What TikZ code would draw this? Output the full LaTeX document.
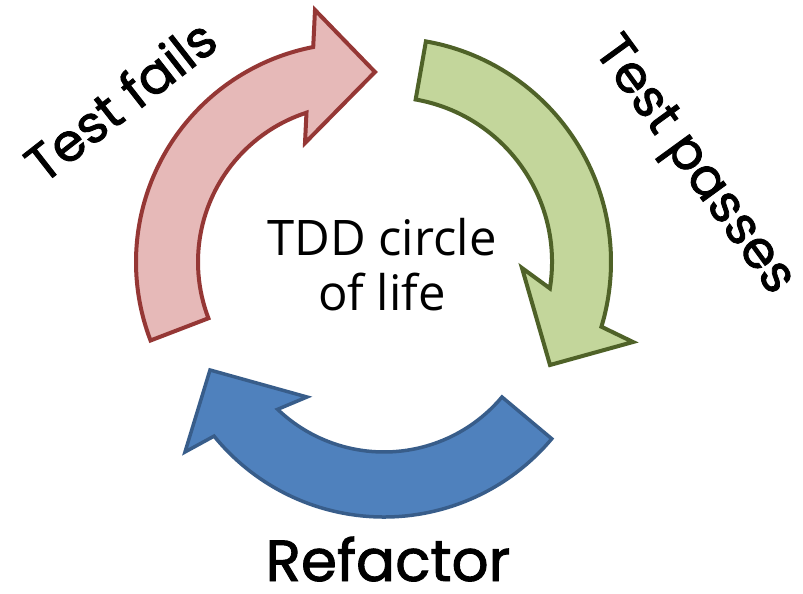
\documentclass[tikz,border=0pt]{standalone}
\usepackage{fontspec}
\setmainfont{Open Sans}
\newfontfamily\handfont{Poppins}[FakeBold=1.6]
\usetikzlibrary{calc}
\definecolor{redfill}{HTML}{E6B9B8}
\definecolor{redline}{HTML}{953735}
\definecolor{greenfill}{HTML}{C3D69B}
\definecolor{greenline}{HTML}{4F6228}
\definecolor{bluefill}{HTML}{4F81BD}
\definecolor{blueline}{HTML}{385D8A}
\tikzset{
  arrowshape/.style={line width=4pt, line join=miter},
  redarrow/.style={arrowshape, fill=redfill, draw=redline},
  greenarrow/.style={arrowshape, fill=greenfill, draw=greenline},
  bluearrow/.style={arrowshape, line width=3.5pt, fill=bluefill, draw=blueline},
  handlabel/.style={font=\handfont\fontsize{52}{60}\selectfont, inner sep=0pt},
  centertext/.style={font=\fontsize{49}{55}\selectfont, inner sep=0pt, anchor=base},
}
\begin{document}
\begin{tikzpicture}[x=1pt,y=-1pt]
\path[use as bounding box, fill=white] (0,0) rectangle (803,594);
% red arrow
\coordinate (rc) at (355,262);
\draw[redarrow] ($(rc)+(159:219)$) arc[start angle=159, end angle=259, radius=219]
  -- (315,10) -- (375,72) -- (305,143) -- ($(rc)+(252:157)$)
  arc[start angle=252, end angle=159, radius=157] -- cycle;
% green arrow
\coordinate (gc) at (387,262);
\draw[greenarrow] ($(gc)+(-80:224)$) arc[start angle=-80, end angle=16.8, radius=224]
  -- (633,342) -- (550,365) -- (522,268) -- ($(gc)+(9.2:165)$)
  arc[start angle=9.2, end angle=-80, radius=165] -- cycle;
% blue arrow
\coordinate (bc) at (384,298);
\draw[bluearrow] ($(bc)+(40:219)$) arc[start angle=40, end angle=140.9, radius=219]
  -- (185,452) -- (210,370) -- (307,397) -- ($(bc)+(133.7:154)$)
  arc[start angle=133.7, end angle=40, radius=154] -- cycle;
% labels
\node[handlabel, rotate=38] (fails) at (120,100) {Test fails};
\node[handlabel, rotate=-54] (passes) at (692,167) {Test passes};
\node[handlabel, font=\handfont\fontsize{58}{66}\selectfont, anchor=base, text depth=0pt] (refactor) at (388,581) {Refactor};
\node[centertext] (tdd) at (382,255) {TDD circle};
\node[centertext] (life) at (382,310) {of life};
\end{tikzpicture}
\end{document}
